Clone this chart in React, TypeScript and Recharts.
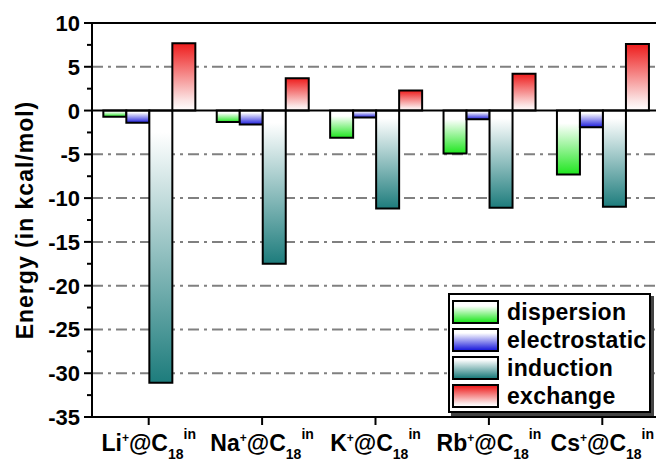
import { Bar, BarChart, CartesianGrid, ReferenceLine, XAxis, YAxis } from 'recharts';

const categories = ['Li', 'Na', 'K', 'Rb', 'Cs'];
const dispersion = [-0.7, -1.3, -3.1, -4.9, -7.3];
const electrostatic = [-1.4, -1.6, -0.8, -1.0, -1.9];
const induction = [-31.1, -17.5, -11.2, -11.1, -11.0];
const exchange = [7.7, 3.7, 2.3, 4.2, 7.6];

const yTicks = [-35, -32.5, -30, -27.5, -25, -22.5, -20, -17.5, -15, -12.5, -10, -7.5, -5, -2.5, 0, 2.5, 5, 7.5, 10];
const gridValues = [5, -5, -10, -15, -20, -25, -30];

const series = [
  { key: 'dispersion', top: '#ffffff', bottom: '#1fe61f', midColor: '#ffffff', mid: 0.2 },
  { key: 'electrostatic', top: '#ffffff', bottom: '#1c1cdc', midColor: '#ffffff', mid: 0.15 },
  { key: 'induction', top: '#ffffff', bottom: '#1d7c7c', midColor: '#ffffff', mid: 0.08 },
  { key: 'exchange', top: '#ee1c1c', bottom: '#ffffff', midColor: '#fbe4e4', mid: 0.85 },
];

const data = categories.map((ion, i) => ({
  ion,
  dispersion: dispersion[i],
  electrostatic: electrostatic[i],
  induction: induction[i],
  exchange: exchange[i],
}));

const FONT = '"Liberation Sans", Arial, sans-serif';

function YTick(props: any) {
  const { x, y, payload } = props;
  const axisX = x + 12;
  const major = payload.value % 5 === 0;
  return (
    <g>
      <line x1={axisX - (major ? 8 : 5)} x2={axisX} y1={y} y2={y} stroke="#000" strokeWidth={2} />
      {major && (
        <text x={axisX - 12} y={y} dy={8} textAnchor="end" fontSize={22} fontWeight="bold" fontFamily={FONT} fill="#000">
          {payload.value}
        </text>
      )}
    </g>
  );
}

function XTick(props: any) {
  const { x, y, payload } = props;
  return (
    <text x={x} y={y + 24} textAnchor="middle" fontSize={23} fontWeight="bold" fontFamily={FONT} fill="#000">
      <tspan>{payload.value}</tspan>
      <tspan fontSize={12} dy={-9}>+</tspan>
      <tspan dy={9}>@C</tspan>
      <tspan fontSize={14} dy={8}>18</tspan>
      <tspan fontSize={14} dy={-20}>in</tspan>
    </text>
  );
}

function YLabel(props: any) {
  const { viewBox } = props;
  const cx = viewBox.x + 25;
  const cy = viewBox.y + viewBox.height / 2;
  return (
    <text
      x={cx}
      y={cy}
      transform={`rotate(-90, ${cx}, ${cy})`}
      textAnchor="middle"
      dominantBaseline="central"
      fontSize={23}
      fontWeight="bold"
      fontFamily={FONT}
      letterSpacing={1}
      fill="#000"
    >
      Energy (in kcal/mol)
    </text>
  );
}

export default function App() {
  return (
    <div
      style={{
        position: 'fixed',
        left: 0,
        top: 0,
        width: 656,
        height: 461,
        overflow: 'hidden',
        background: '#fff',
        fontFamily: FONT,
      }}
    >
      <BarChart
        width={670}
        height={461}
        data={data}
        margin={{ top: 23, right: 11, left: 0, bottom: 0 }}
        barCategoryGap="10%"
        barGap={0}
      >
        <defs>
          {series.map((s) => (
            <linearGradient key={s.key} id={`grad-${s.key}`} x1="0" y1="0" x2="0" y2="1">
              <stop offset="0%" stopColor={s.top} />
              <stop offset={`${s.mid * 100}%`} stopColor={s.midColor} />
              <stop offset="100%" stopColor={s.bottom} />
            </linearGradient>
          ))}
        </defs>
        <CartesianGrid
          horizontal
          vertical={false}
          horizontalValues={gridValues}
          stroke="#808080"
          strokeWidth={2}
          strokeDasharray="11 5 3 5"
        />
        <XAxis
          dataKey="ion"
          height={44}
          axisLine={{ stroke: '#000', strokeWidth: 2 }}
          tickLine={{ stroke: '#000', strokeWidth: 2 }}
          tickSize={8}
          tickMargin={2}
          tick={<XTick />}
          interval={0}
        />
        <YAxis
          width={92}
          domain={[-35, 10]}
          ticks={yTicks}
          interval={0}
          allowDataOverflow
          axisLine={{ stroke: '#000', strokeWidth: 2 }}
          tickLine={false}
          tickSize={8}
          tickMargin={4}
          tick={<YTick />}
          label={{ content: <YLabel /> }}
        />
        {series.map((s) => (
          <Bar
            key={s.key}
            dataKey={s.key}
            fill={`url(#grad-${s.key})`}
            stroke="#000"
            strokeWidth={2}
            isAnimationActive={false}
          />
        ))}
        <ReferenceLine y={0} stroke="#000" strokeWidth={2} />
        <ReferenceLine y={10} stroke="#000" strokeWidth={2} />
      </BarChart>

      <div
        style={{
          position: 'absolute',
          left: 448,
          top: 293,
          width: 203,
          border: '2px solid #000',
          background: '#fff',
          boxShadow: '3px 3px 0 #444',
          padding: '3px 0 1px 2px',
          boxSizing: 'border-box',
        }}
      >
        {series.map((s) => (
          <div key={s.key} style={{ display: 'flex', alignItems: 'center', height: 28 }}>
            <span
              style={{
                width: 47,
                height: 24,
                boxSizing: 'border-box',
                border: '2px solid #000',
                background: `linear-gradient(to bottom, ${s.top}, ${s.midColor} ${s.mid * 100}%, ${s.bottom})`,
                flexShrink: 0,
              }}
            />
            <span
              style={{
                marginLeft: 8,
                fontSize: 23,
                fontWeight: 'bold',
                color: '#000',
                lineHeight: '24px',
                letterSpacing: 0.3,
                whiteSpace: 'nowrap',
              }}
            >
              {s.key}
            </span>
          </div>
        ))}
      </div>
    </div>
  );
}
